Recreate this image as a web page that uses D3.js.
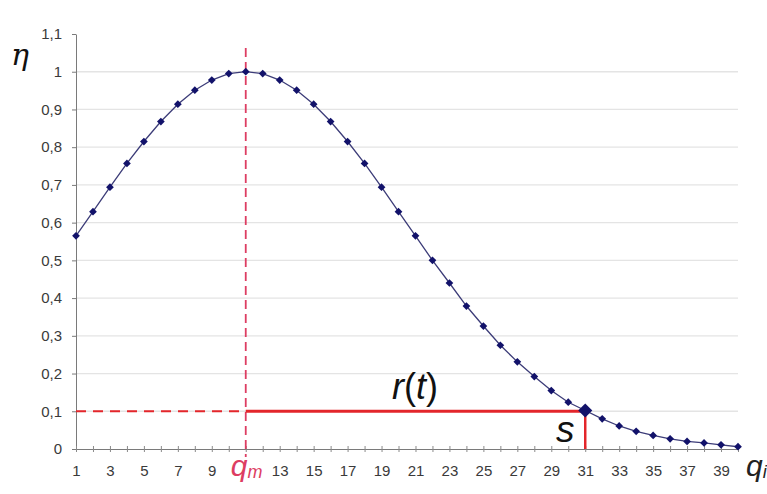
<!DOCTYPE html>
<html>
<head>
<meta charset="utf-8">
<script src="https://cdn.jsdelivr.net/npm/d3@7"></script>
<style>
  html, body { margin: 0; padding: 0; background: #fff; }
  svg { display: block; font-family: "Liberation Sans", Arial, sans-serif; }
</style>
</head>
<body>
<svg id="chart" width="767" height="494"></svg>
<script>
// Category positions q = 1 .. 40
const categories = d3.range(1, 41);

// Efficiency η at each position q
const etaValues = [
  0.565, 0.629, 0.694, 0.757, 0.815, 0.868, 0.914, 0.951, 0.978, 0.995,
  1.000, 0.995, 0.978, 0.951, 0.914, 0.868, 0.815, 0.757, 0.694, 0.629,
  0.565, 0.500, 0.440, 0.379, 0.326, 0.275, 0.231, 0.192, 0.155, 0.124,
  0.102, 0.080, 0.061, 0.047, 0.036, 0.027, 0.020, 0.016, 0.011, 0.006
];

// Axis ticks
const yTickValues = [0, 0.1, 0.2, 0.3, 0.4, 0.5, 0.6, 0.7, 0.8, 0.9, 1.0, 1.1];
const yTickLabels = ["0", "0,1", "0,2", "0,3", "0,4", "0,5", "0,6", "0,7", "0,8", "0,9", "1", "1,1"];
const gridValues = [0.1, 0.2, 0.3, 0.4, 0.5, 0.6, 0.7, 0.8, 0.9, 1.0];
const xTickLabels = ["1", "3", "5", "7", "9", "13", "15", "17", "19", "21", "23", "25",
                     "27", "29", "31", "33", "35", "37", "39"];

// Marked quantities
const peakQ = 11;         // q_m, position of the maximum
const thresholdEta = 0.1; // level reached by r(t)
const sQ = 31;            // position s where η falls to the threshold

const svg = d3.select("#chart");

const x = d3.scalePoint().domain(categories).range([76, 738]);
const y = d3.scaleLinear().domain([0, 1.1]).range([449, 34]);

const RED = "#e3262b";
const PINK = "#dd3d62";
const NAVY = "#12126a";

// Horizontal gridlines
svg.append("g")
  .selectAll("line")
  .data(gridValues)
  .join("line")
  .attr("x1", x(1)).attr("x2", x(40))
  .attr("y1", d => y(d)).attr("y2", d => y(d))
  .attr("stroke", "#e4e4e4")
  .attr("stroke-width", 1.3);

// Y axis
const yAxis = svg.append("g")
  .attr("transform", `translate(${x(1)},0)`)
  .call(d3.axisLeft(y)
    .tickValues(yTickValues)
    .tickFormat((d, i) => yTickLabels[i])
    .tickSizeInner(4).tickSizeOuter(0).tickPadding(10));
yAxis.select(".domain").attr("stroke", "#7a7a7a");
yAxis.selectAll(".tick line").attr("stroke", "#7a7a7a");
yAxis.selectAll(".tick text")
  .attr("fill", "#3a3a3a")
  .style("font-size", "15px");

// X axis (odd categories labelled, the peak gets its own label)
const xAxis = svg.append("g")
  .attr("transform", `translate(0,${y(0)})`)
  .call(d3.axisBottom(x)
    .tickFormat(d => xTickLabels.includes(String(d)) ? String(d) : "")
    .tickSizeInner(3).tickSizeOuter(0).tickPadding(13));
xAxis.select(".domain").attr("stroke", "#7a7a7a");
xAxis.selectAll(".tick line").attr("stroke", "#8a8a8a").attr("y1", -3);
xAxis.selectAll(".tick text")
  .attr("fill", "#3a3a3a")
  .style("font-size", "15px");

// Dashed guides at the peak and at the threshold level
svg.append("line")
  .attr("x1", x(peakQ)).attr("x2", x(peakQ))
  .attr("y1", 48).attr("y2", y(0) + 8)
  .attr("stroke", PINK)
  .attr("stroke-width", 1.8)
  .attr("stroke-dasharray", "9,5");
svg.append("line")
  .attr("x1", x(1)).attr("x2", x(peakQ))
  .attr("y1", y(thresholdEta)).attr("y2", y(thresholdEta))
  .attr("stroke", RED)
  .attr("stroke-width", 1.8)
  .attr("stroke-dasharray", "10,7");

// r(t): solid segment from the peak position to s
svg.append("line")
  .attr("x1", x(peakQ)).attr("x2", x(sQ))
  .attr("y1", y(thresholdEta)).attr("y2", y(thresholdEta))
  .attr("stroke", RED)
  .attr("stroke-width", 3);
svg.append("line")
  .attr("x1", x(sQ)).attr("x2", x(sQ))
  .attr("y1", y(thresholdEta)).attr("y2", y(0))
  .attr("stroke", RED)
  .attr("stroke-width", 2.5);

// Curve
const series = categories.map((q, i) => ({ q, v: etaValues[i] }));
svg.append("path")
  .datum(series)
  .attr("fill", "none")
  .attr("stroke", "#3c3c78")
  .attr("stroke-width", 1.3)
  .attr("d", d3.line().x(d => x(d.q)).y(d => y(d.v)));

// Diamond markers
svg.append("g")
  .selectAll("path")
  .data(series)
  .join("path")
  .attr("transform", d => `translate(${x(d.q)},${y(d.v)}) rotate(45)`)
  .attr("d", d => d.q === sQ
    ? d3.symbol(d3.symbolSquare, 100)()
    : d3.symbol(d3.symbolSquare, 30)())
  .attr("fill", NAVY);

// Labels
svg.append("text")
  .attr("x", 11).attr("y", 65)
  .style("font-family", "'DejaVu Serif', 'Liberation Serif', serif")
  .style("font-style", "italic")
  .style("font-size", "30px")
  .attr("fill", "#111")
  .text("η");

const qm = svg.append("text")
  .attr("x", x(peakQ) - 15).attr("y", 476)
  .attr("fill", PINK)
  .style("font-style", "italic");
qm.append("tspan").style("font-size", "30px").text("q");
qm.append("tspan").style("font-size", "18px").attr("dy", 2).text("m");

const qi = svg.append("text")
  .attr("x", 746).attr("y", 476)
  .attr("fill", "#222")
  .style("font-style", "italic");
qi.append("tspan").style("font-size", "30px").text("q");
qi.append("tspan").style("font-size", "18px").attr("dy", 2).text("i");

const rt = svg.append("text")
  .attr("x", 392).attr("y", 399)
  .attr("fill", "#111")
  .style("font-size", "36px");
rt.append("tspan").style("font-style", "italic").text("r");
rt.append("tspan").text("(");
rt.append("tspan").style("font-style", "italic").text("t");
rt.append("tspan").text(")");

svg.append("text")
  .attr("x", 556).attr("y", 442)
  .attr("fill", "#111")
  .style("font-size", "37px")
  .style("font-style", "italic")
  .text("s");
</script>
</body>
</html>
